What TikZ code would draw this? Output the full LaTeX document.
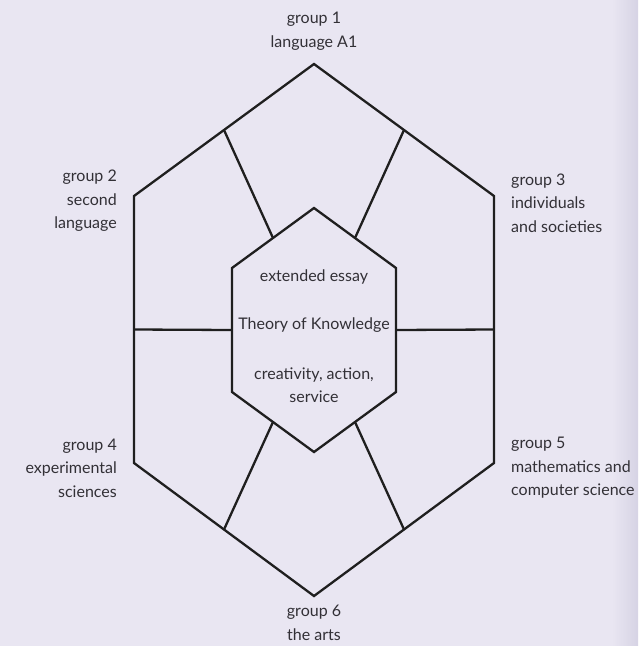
\documentclass[tikz,border=0pt]{standalone}
\usepackage{fontspec}
\setmainfont{Lato}
\usetikzlibrary{calc}
\definecolor{paper}{RGB}{233,230,242}
\definecolor{papershade}{RGB}{214,211,228}
\definecolor{ink}{RGB}{50,48,54}
\newcommand{\labfont}{\fontsize{16}{23.5}\selectfont}
\tikzset{
  hexline/.style={line width=2.3pt,draw=black!88,line join=miter},
  grouplabel/.style={font=\labfont,text=ink,inner sep=0pt},
}
\begin{document}
\begin{tikzpicture}[x=1pt,y=-1pt]
\fill[paper] (0,0) rectangle (638,646);
\shade[left color=paper,right color=papershade] (612,0) rectangle (638,646);
\useasboundingbox (0,0) rectangle (638,646);
% outer and inner hexagon corners
\coordinate (o1) at (314,64);  \coordinate (o2) at (494,196); \coordinate (o3) at (494,463);
\coordinate (o4) at (314,596); \coordinate (o5) at (134,463); \coordinate (o6) at (134,196);
\coordinate (i1) at (314,208); \coordinate (i2) at (396,268); \coordinate (i3) at (396,392);
\coordinate (i4) at (314,452); \coordinate (i5) at (232,392); \coordinate (i6) at (232,268);
\draw[hexline] (o1) -- (o2) -- (o3) -- (o4) -- (o5) -- (o6) -- cycle;
\draw[hexline] (i1) -- (i2) -- (i3) -- (i4) -- (i5) -- (i6) -- cycle;
\foreach \a/\b in {1/2,2/3,3/4,4/5,5/6,6/1}{
  \draw[hexline] ($(o\a)!0.5!(o\b)$) -- ($(i\a)!0.5!(i\b)$);}
% the six groups
\node[grouplabel,align=center] (g1) at (314,31) {group 1\\language A1};
\node[grouplabel,align=right,anchor=east] (g2) at (117,201) {group 2\\second\\language};
\node[grouplabel,align=left,anchor=west] (g3) at (511,203) {group 3\\individuals\\and societies};
\node[grouplabel,align=right,anchor=east] (g4) at (117,468) {group 4\\experimental\\sciences};
\node[grouplabel,align=left,anchor=west] (g5) at (511,468) {group 5\\mathematics and\\computer science};
\node[grouplabel,align=center] (g6) at (314,623) {group 6\\the arts};
% core
\node[grouplabel] (ee) at (314,277) {extended essay};
\node[grouplabel] (tok) at (314,325) {Theory of Knowledge};
\node[grouplabel,align=center] (cas) at (314,385) {creativity, action,\\service};
\end{tikzpicture}
\end{document}
